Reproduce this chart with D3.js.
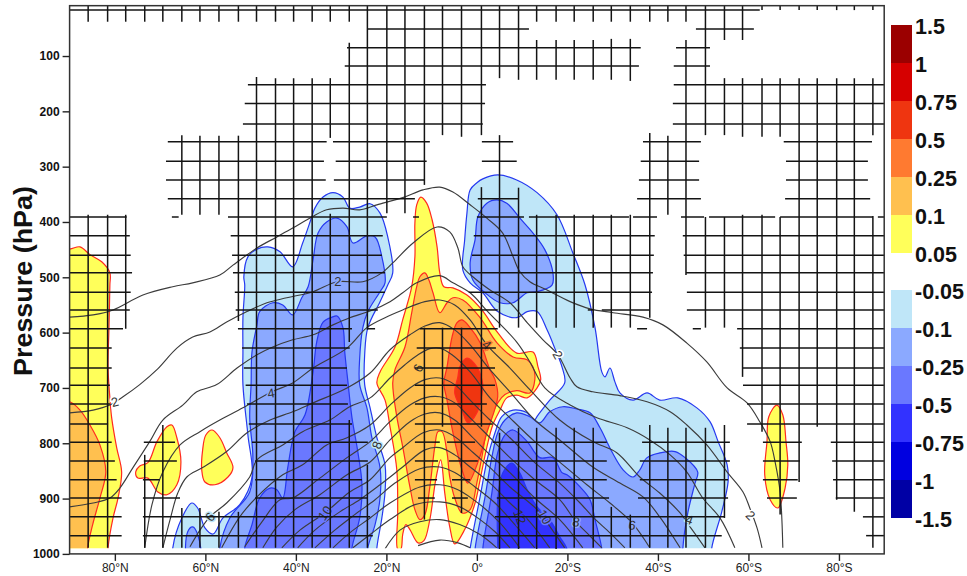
<!DOCTYPE html>
<html><head><meta charset="utf-8">
<script src="https://cdn.jsdelivr.net/npm/d3@7/dist/d3.min.js"></script>
<style>html,body{margin:0;padding:0;background:#fff}svg{display:block}text{font-family:"Liberation Sans",Arial,sans-serif}</style>
</head><body><svg id="c" width="967" height="576"></svg>
<script>
// ---------- axes and legend ----------
const pressureTicks=[100,200,300,400,500,600,700,800,900,1000];
const latTicks=[80,60,40,20,0,-20,-40,-60,-80];
const latTickLabels=["80°N","60°N","40°N","20°N","0°","20°S","40°S","60°S","80°S"];
const posLegendLabels=["1.5","1","0.75","0.5","0.25","0.1","0.05"];
const negLegendLabels=["-0.05","-0.1","-0.25","-0.5","-0.75","-1","-1.5"];
const posColors=["#9b0000","#d60000","#ef3510","#ff7a30","#ffc04f","#ffff5a"];
const negColors=["#bfe6f8","#8ba9ff","#6a78ff","#3232ff","#0000e0","#0000a5"];
// ---------- filled regions: [latitude, hPa], colour index ----------
const yellowA=[[90,449],[87.7,445],[85.5,459],[82.9,472],[81.1,492],[81.1,514],[81.3,591],[81.5,664],[81.1,718],[80.7,754],[79.6,808],[78.5,852],[79.3,899],[80.4,935],[81.5,989],[81.5,1010],[95,1010],[95,449]];
const orangeA=[[90,725],[87.7,740],[85.5,767],[83.3,803],[82,852],[83.3,899],[84.9,947],[86,989],[86,1010],[95,1010],[95,725]];
const yellowB=[[67.4,767],[66.3,790],[65.4,834],[66.3,875],[68.5,893],[70.5,888],[72.7,863],[74.9,863],[75.4,852],[74.5,841],[72.7,835],[70.7,797],[68.5,770]];
const yellowC=[[58.5,776],[56.8,790],[55.3,817],[53.9,844],[55,861],[57.9,875],[60.1,870],[60.8,848],[60.6,812],[59.9,785]];
const yellowD=[[-66.3,731],[-67.6,749],[-68.3,797],[-68.7,839],[-68.1,881],[-66.5,917],[-64.8,902],[-63.6,857],[-64.1,797],[-64.5,752]];
const yellowE=[[12.4,355],[11.1,366],[9.9,396],[8.8,445],[8.2,492],[7.3,517],[5.3,519],[2.2,532],[-1.1,559],[-4.6,600],[-8.8,637],[-12.4,635],[-13.5,662],[-14.1,685],[-13.3,700],[-11.1,718],[-8.8,713],[-6.6,718],[-5.1,740],[-3.5,767],[-2.2,807],[-0.7,866],[0.4,908],[2.7,956],[4.9,982],[6,951],[7.1,890],[8,830],[9.1,866],[10.4,938],[11.7,976],[13,980],[14.8,956],[15.7,947],[16.4,965],[16.8,991],[17.5,991],[17.5,926],[17.7,848],[19.2,770],[20.3,722],[22.1,691],[21.4,671],[18.1,626],[16.4,577],[14.4,517],[13.7,463],[13.7,402],[13.3,369]];
const orangeE=[[11.5,492],[10.6,505],[9.7,528],[8.2,564],[6.6,546],[5.3,537],[3.1,541],[-0.7,573],[-4.4,618],[-8,644],[-11.1,649],[-12.4,662],[-12.8,685],[-11.7,709],[-8.8,705],[-6.2,712],[-4.6,727],[-2.4,770],[-1.1,825],[0,871],[1.5,920],[3.3,926],[4.9,899],[6,861],[6.6,817],[7.7,779],[8.6,779],[9.3,806],[10.4,879],[11.5,929],[12.6,938],[13.7,920],[14.8,879],[16.4,806],[17.7,752],[18.6,691],[18.1,667],[15.9,626],[14.4,564],[13.3,517],[12.6,499]];
const darkOrangeE=[[3.3,577],[1.5,591],[-0.7,618],[-2.9,667],[-4,685],[-4.6,716],[-2.2,781],[-0.2,835],[2,872],[3.3,848],[5.3,781],[6.6,722],[7.3,691],[6.6,662],[5.5,608],[4.4,582]];
const redE=[[2.2,646],[0,662],[-1.1,685],[-1.3,698],[0,745],[2,763],[3.3,740],[4.9,709],[4.2,680],[3.8,662]];
const blueN1=[[31.8,347],[29.6,355],[28.1,375],[25.9,373],[23.6,367],[21.4,384],[19.7,427],[18.6,492],[19.7,514],[21.4,544],[24.1,591],[24.8,640],[24.8,694],[23.6,736],[22.1,790],[20.3,839],[20.3,888],[21,935],[22.1,989],[22.1,1010],[67.2,1010],[67.2,989],[65.2,935],[63,908],[61.7,917],[60.1,953],[58.3,964],[56.1,935],[52.4,911],[49.7,862],[50.6,785],[51.7,694],[51.7,635],[51.7,573],[51.3,514],[51.5,499],[50.6,463],[48.6,449],[46.2,445],[43.5,454],[40.7,481],[38.5,438],[36.5,391],[35.8,375],[34,355]];
const blueN2=[[30.9,393],[28.7,409],[27.4,438],[24.3,425],[22.5,427],[21,463],[20.3,510],[21.4,526],[24.1,562],[25.2,591],[25.9,646],[25.9,694],[24.3,736],[23.2,790],[21.4,844],[21.4,899],[22.5,947],[24.1,989],[24.1,1010],[56.8,1010],[56.8,989],[54.6,935],[50.2,888],[49.5,826],[50.2,754],[49.9,694],[49.7,635],[48.6,586],[48,562],[45.1,546],[42.9,550],[40.7,568],[38.7,537],[37.3,517],[36.2,468],[35.1,420],[33.2,400]];
const blueN2b=[[63.9,1010],[63.9,960],[62.8,951],[61.7,965],[61.2,1010]];
const blueN3=[[30.9,570],[29.6,591],[29.2,635],[28.5,689],[27.6,754],[26.3,816],[25.4,875],[25.9,935],[27.6,989],[27.6,1010],[51.3,1010],[51.3,989],[49.7,947],[48,899],[45.7,881],[44.2,884],[42.9,899],[41.8,844],[40.2,779],[38,749],[36.2,671],[35.4,617],[34,581],[32,572]];
const blueN5=[[-4.6,315],[-8.8,324],[-13.3,347],[-17.7,387],[-21.2,456],[-23.9,514],[-26.1,591],[-27.6,671],[-28.3,680],[-29.4,664],[-30.5,689],[-31.6,709],[-34.5,722],[-37.6,709],[-40.4,722],[-44.4,718],[-48.6,736],[-51.5,761],[-53.3,797],[-55.3,839],[-55.5,870],[-54.1,924],[-51.9,989],[-51.9,1010],[1.7,1010],[1.5,991],[-0.7,897],[-2.4,825],[-4,781],[-5.5,752],[-8,740],[-11.1,745],[-12.4,761],[-13.5,749],[-16.1,722],[-19.4,691],[-18.8,662],[-17.2,628],[-15.5,595],[-13.3,562],[-11.1,562],[-8.8,573],[-4.6,562],[-1.3,528],[1.5,510],[3.1,487],[2.7,432],[2.2,384],[1.5,342],[0,329],[-1.3,322]];
const blueN6=[[-4.4,360],[-6.6,366],[-9.5,393],[-12.4,420],[-15,450],[-16.8,492],[-16.6,514],[-13.3,526],[-11.1,528],[-8,546],[-5.1,546],[-1.8,528],[0.9,505],[1.5,474],[0.4,432],[-0.2,391],[-2.2,366]];
const blueN7=[[0.4,991],[-1.8,897],[-3.3,825],[-4.6,781],[-6.2,758],[-8.8,745],[-11.7,752],[-13.9,763],[-16.1,743],[-19,734],[-22.1,738],[-25,745],[-27.2,772],[-29.8,815],[-32.3,848],[-34.5,861],[-36,848],[-37.6,826],[-42,815],[-43.8,815],[-46,826],[-48.8,852],[-48.2,872],[-46.6,926],[-45.5,991],[-45.5,1010],[0.4,1010]];
const blueN8=[[-1.3,991],[-3.3,890],[-4.6,817],[-6.2,785],[-8,776],[-11.1,797],[-13.9,826],[-16.8,826],[-18.8,853],[-19.9,857],[-22.8,879],[-25,902],[-26.1,938],[-27.6,991],[-27.6,1010],[-1.3,1010]];
const blueN9=[[-4.6,991],[-4.6,902],[-5.7,854],[-7.7,836],[-9.5,854],[-11.1,884],[-13.3,915],[-16.1,938],[-18.3,969],[-19.9,991],[-19.9,1010],[-4.6,1010]];
const posRegions=[[yellowA,5],[yellowB,5],[yellowC,5],[yellowD,5],[yellowE,5],[orangeA,4],[orangeE,4],[darkOrangeE,3],[redE,2]];
const negRegions=[[blueN1,0],[blueN5,0],[blueN2,1],[blueN2b,1],[blueN6,1],[blueN7,1],[blueN3,2],[blueN8,2],[blueN9,3]];
// ---------- black contours: [latitude, hPa] ----------
const L1=[[90,572],[84.8,568],[80.4,559],[73.8,532],[67.2,517],[62.8,510],[56.8,496],[53.9,478],[48.6,447],[44.2,427],[40.7,411],[36.5,391],[33.2,378],[29.6,375],[25.9,378],[22.1,369],[16.4,356],[11.9,342],[8.2,337],[5.3,346],[1.5,369],[-2.2,393],[-5.7,420],[-8,463],[-9.5,490],[-11.7,508],[-15.5,523],[-20.6,544],[-25,557],[-30.1,564],[-36.7,572],[-41.1,586],[-46.4,619],[-50.8,653],[-55.3,700],[-59.7,727],[-62.5,761],[-64.8,797],[-65.9,834],[-67,888],[-67.6,989]];
const L2=[[90,745],[84.8,740],[81.1,731],[78.2,716],[74.5,694],[70.7,667],[66.3,628],[62.8,608],[59,599],[55.3,581],[50.8,562],[46.4,546],[42,537],[36.2,526],[30.9,508],[25.2,508],[21,492],[18.6,474],[14.1,438],[8.8,409],[6,418],[4.2,447],[3.1,481],[0.9,499],[-2.9,523],[-7.3,546],[-11.1,582],[-14.6,613],[-17.9,640],[-20.6,682],[-22.1,698],[-25.6,707],[-31.6,714],[-37.6,725],[-42.7,743],[-46.4,767],[-50.8,803],[-55.3,852],[-58.8,888],[-60.3,917],[-61.9,953],[-63,989]];
const L3=[[90,915],[84.8,908],[81.1,899],[78.9,881],[76,844],[72.3,797],[69.4,758],[65,731],[61.9,707],[57.5,694],[53,664],[48.6,640],[45.1,626],[40.7,613],[36.2,604],[31.8,586],[28.1,573],[23.6,561],[19.2,544],[16.4,528],[13.3,510],[8.2,497],[5.3,510],[1.5,528],[-2.4,562],[-8.8,617],[-11.7,653],[-15,700],[-20.6,731],[-26.5,754],[-33.2,772],[-38.2,794],[-42.7,821],[-46.4,852],[-49.9,899],[-53.7,935],[-57,989]];
const L4=[[73.4,989],[71.8,911],[69.4,852],[65.6,803],[61.2,779],[56.8,758],[51.7,736],[45.3,707],[40.7,691],[36.2,664],[28.7,628],[24.3,591],[20.3,573],[16.4,559],[11.5,544],[8.2,541],[4.9,550],[1.5,577],[-2.2,622],[-7.3,664],[-11.7,703],[-18.3,758],[-25.6,797],[-30.9,817],[-36,861],[-40.4,890],[-44.9,926],[-47.1,951],[-50.4,989]];
const L5=[[69.4,989],[67.8,938],[66.1,890],[64.1,861],[60.6,844],[55.3,815],[50.8,781],[45.7,758],[40.7,743],[36.2,727],[28.7,700],[23.6,673],[19.2,631],[14.8,604],[11.5,588],[8.2,582],[4.9,595],[1.5,622],[-2.9,667],[-7.3,707],[-12.8,758],[-18.3,794],[-25.6,843],[-31.6,872],[-36.7,897],[-40.4,933],[-44.9,989]];
const L6=[[63.4,987],[61.2,957],[59,933],[55.3,908],[50.2,861],[48.6,830],[42.9,803],[38.5,779],[32.5,758],[28.1,734],[23.6,718],[19.2,682],[15.9,658],[13,640],[10.4,629],[8.2,628],[5.5,640],[1.5,671],[-2.9,718],[-7.3,754],[-12.8,797],[-18.3,834],[-24.3,875],[-29.4,908],[-34.3,944],[-38.2,989]];
const L7=[[56.4,989],[52.4,933],[48.6,897],[42.9,857],[38.5,839],[33.2,803],[28.7,790],[23.6,767],[19.2,731],[14.8,700],[11.5,685],[8.2,682],[4.9,694],[1.5,722],[-2.9,758],[-7.3,790],[-12.8,835],[-18.3,872],[-22.8,908],[-25.6,933],[-29.4,962],[-32.7,989]];
const L8=[[51.3,987],[47.5,942],[43.5,902],[40.7,899],[34.7,863],[28.7,826],[23.6,797],[19.2,761],[14.8,731],[11.5,718],[8.2,716],[4.9,727],[1.5,754],[-2.9,790],[-7.3,826],[-12.8,866],[-18.3,902],[-21.9,942],[-24.3,962],[-27.6,989]];
const L9=[[47.3,989],[44.2,951],[40.2,920],[34.7,893],[28.7,857],[23.6,834],[19.2,794],[14.8,761],[11.5,747],[8.2,745],[4.9,758],[1.5,785],[-2.9,821],[-7.3,853],[-12.8,899],[-18.3,938],[-23.4,989]];
const L10=[[43.1,989],[39.1,957],[33.6,926],[28.1,888],[23.6,866],[19.2,826],[16.4,808],[11.9,781],[8.2,776],[4.9,788],[1.5,812],[-2.9,844],[-7.3,879],[-13.3,920],[-16.6,956],[-19.4,989]];
const L11=[[39.6,989],[35.8,957],[30.3,924],[25.9,902],[21.4,875],[16.4,843],[11.5,812],[8.2,808],[4.9,821],[1.5,843],[-2.9,872],[-7.3,908],[-11.7,942],[-16.1,989]];
const L12=[[35.8,989],[31.4,957],[27,929],[22.5,902],[18.1,872],[12.6,846],[8.2,843],[4.9,853],[0.4,879],[-4,908],[-8.4,947],[-12.8,989]];
const L13=[[31.8,989],[28.1,962],[23.6,935],[19.2,908],[12.6,879],[8.2,875],[4.2,884],[-0.7,911],[-5.1,944],[-9.5,989]];
const L14=[[27.4,989],[23.6,965],[19.2,938],[13.7,911],[8.2,906],[3.8,915],[-0.7,938],[-4,960],[-7.3,989]];
const L15=[[20.3,991],[17,957],[12.6,942],[8.2,938],[3.8,947],[-0.7,965],[-4.4,989]];
const L16=[[13,985],[8.2,975],[4.2,980],[1.5,989]];
const contourLines=[L1,L2,L3,L4,L5,L6,L7,L8,L9,L10,L11,L12,L13,L14,L15,L16];
// contour labels: text, latitude, hPa, angle, halo colour key
const contourLabels=[["2",80,725,-15,"w"],["2",30.7,507,0,"n1"],["4",45.5,709,-10,"n1"],["6",59,933,-50,"n0"],["8",22.1,803,-70,"n0"],["10",33.6,926,-55,"n2"],["6",13,664,-65,"p4"],["4",-2.2,622,40,"p3"],["2",-17.9,640,60,"w"],["2",-60.5,930,45,"w"],["4",-47,938,20,"n0"],["6",-34.3,948,10,"n1"],["8",-21.9,942,10,"n1"],["10",-15,933,60,"n2"],["12",-9.5,933,70,"n3"]];
// ---------- significance hatching ----------
const hatchLevels=[17,51,85,118,152,186,223,255,290,324,358,391,425,460,492,527,559,593,628,664,695,729,765,798,832,866,899,933,967];
const hatchRowSpans=[
[[90,-62.5]],
[[24.1,-11.5],[-48.4,-61.2]],
[[28.7,-36.2],[-44,-51.5]],
[[29.2,-35.8],[-43.5,-51.5]],
[[50.6,-2],[-43.5,-90]],
[[51.3,-1.8],[-43.3,-90]],
[[51.7,-1.3],[-43.3,-90]],
[[68.3,33.2],[31.8,10.4],[-1.1,-8],[-36.7,-49.5],[-67.8,-87.3]],
[[68.7,33.8],[31.2,11.1],[-1.1,-8.8],[-36.2,-49.1],[-68.3,-86.4]],
[[68.7,33.4],[31.6,11.5],[-35.8,-49.1],[-68.3,-86.4]],
[[68.3,13.7],[-0.2,-9.3],[-35.4,-49.5],[-68.1,-86.9]],
[[90,77.4],[67.4,65.9],[55,19.9],[14.1,12.8],[0,-10.4],[-11.5,-33.6],[-34.5,-39.8],[-45.1,-50.2],[-51.3,-65.9],[-67,-87.5],[-88.6,-90]],
[[90,76.7],[54.4,20.8],[0.7,-39.3],[-45.5,-90]],
[[90,76.5],[54.1,21],[1.1,-39.1],[-45.7,-90]],
[[90,76.2],[53.9,20.3],[1.5,-38.9],[-46.2,-90]],
[[90,76.5],[53.5,20.3],[1.8,-38.7],[-46.4,-90]],
[[90,76.7],[53.3,21.9],[2,-4.6],[-24.5,-25.9],[-27.6,-38.2],[-46.4,-90]],
[[90,78.2],[52.8,27.6],[24.1,22.5],[12.6,-4.6],[-35.4,-37.6],[-47.7,-49.5],[-57.5,-90]],
[[90,80.7],[51.9,28.1],[13.3,-4.2],[-58.1,-90]],
[[90,80.7],[51.5,28.7],[13.7,-4],[-58.6,-90]],
[[90,81.1],[51.1,28.7],[13.7,-4],[-58.8,-90]],
[[90,81.1],[50.8,28.5],[13.7,-2.2],[-59.7,-90]],
[[90,81.5],[50.4,27.6],[13.7,-3.5],[-59.7,-90]],
[[90,80.7],[73.6,66.7],[49.7,24.1],[13.7,8.2],[6.6,0.4],[-3.5,-28.7],[-36.5,-55.9],[-63.2,-71.8],[-78.2,-90]],
[[90,80],[73.6,66.3],[49,24.1],[13.7,8.6],[6.2,-0.2],[-1.8,-28.7],[-36,-55.9],[-63.2,-71.4],[-78.5,-90]],
[[90,79.6],[73.8,70.1],[49,25.4],[13.7,8.8],[5.5,1.5],[-1.8,-28.7],[-36,-55.5],[-63.2,-70.9],[-78.7,-90]],
[[90,78.5],[73.8,65.6],[49,24.1],[13,9.3],[5.5,2],[-4.4,-29.2],[-35.6,-55.5],[-64.1,-70.7],[-79.3,-90]],
[[90,78.5],[73.8,23.6],[-4,-54.8],[-85.3,-90]],
[[90,78.5],[73.8,23],[-1.3,-54.1],[-86,-90]]
];
const hatchLats=[85.9,81.6,77.6,73.4,69.4,65.2,61.2,57,52.7,48.7,44.5,40.5,36.4,32.4,28.2,24.2,19.9,15.9,11.6,7.6,3.4,-1,-5,-9.2,-13.2,-17.5,-21.5,-25.7,-29.7,-33.9,-38.2,-42.2,-46.2,-50.5,-54.7,-58.7,-63,-67,-71.2,-75.2,-79.5,-83.4,-87.5];
const hatchColSpans=[
[[9,38],[387,989]],[[9,38],[387,989]],[[9,38],[387,593]],[[9,38],[821,989]],[[9,38],[767,989]],
[[9,38],[243,387],[917,989]],[[9,38],[244,387],[917,989]],[[9,38],[244,387],[924,989]],[[9,38],[244,579],[924,989]],
[[9,38],[138,989]],[[9,38],[140,989]],[[9,38],[140,989]],[[9,38],[140,989]],[[9,38],[140,248],[385,989]],
[[9,38],[76,617],[758,989]],[[9,595],[839,989]],[[9,384]],[[9,384]],[[9,333],[591,938]],[[9,243],[591,770]],[[9,246],[591,926]],
[[9,243],[337,770]],[[9,140],[243,591],[781,991]],[[9,143],[338,591],[772,991]],
[[9,38],[71,143],[387,591],[772,991]],[[9,38],[71,143],[387,591],[772,991]],[[9,38],[71,143],[387,591],[772,989]],[[9,38],[71,143],[387,591],[772,989]],
[[9,38],[69,143],[387,591],[915,989]],[[9,38],[69,145],[387,591],[929,989]],[[9,38],[239,573],[767,989]],[[9,38],[244,387],[772,989]],[[9,38],[71,496],[772,989]],
[[9,243],[391,591],[772,989]],[[9,71],[140,243],[391,591],[767,935]],[[9,71],[140,246],[387,680]],[[9,17],[140,246],[387,779]],[[9,17],[140,246],[391,929]],
[[9,17],[140,870]],[[9,17],[140,770]],[[9,17],[140,902]],[[9,17],[140,924]],[[9,17],[140,243],[389,989]]
];
// ---------- drawing ----------
const svg=d3.select("#c");
const x=d3.scaleLinear().domain([90,-90]).range([69.6,884.2]);
const y=d3.scaleLinear().domain([0,1000]).range([0.7,553.9]);
const halo={w:"#fff",n0:negColors[0],n1:negColors[1],n2:negColors[2],n3:negColors[3],p3:posColors[3],p4:posColors[4]};
svg.append("rect").attr("width",967).attr("height",576).attr("fill","#fff");
svg.append("defs").append("clipPath").attr("id","plot").append("rect")
  .attr("x",x(90)).attr("y",y(9)).attr("width",x(-90)-x(90)).attr("height",y(990)-y(9));
const area=d3.line().x(d=>x(d[0])).y(d=>y(d[1])).curve(d3.curveCatmullRomClosed.alpha(0.5));
const curve=d3.line().x(d=>x(d[0])).y(d=>y(d[1])).curve(d3.curveCatmullRom.alpha(0.5));
const fills=svg.append("g").attr("clip-path","url(#plot)");
negRegions.forEach(([pts,c])=>fills.append("path").attr("d",area(pts)).attr("fill",negColors[c]).attr("stroke","#2538f0").attr("stroke-width",1.2));
posRegions.forEach(([pts,c])=>fills.append("path").attr("d",area(pts)).attr("fill",posColors[c]).attr("stroke","#ff2a20").attr("stroke-width",1.2));
const lines=svg.append("g").attr("clip-path","url(#plot)");
contourLines.forEach(pts=>lines.append("path").attr("d",curve(pts)).attr("fill","none").attr("stroke","#3c3c3c").attr("stroke-width",1.15));
contourLabels.forEach(([t,la,p,a,h])=>lines.append("text").text(t)
  .attr("transform",`translate(${x(la)},${y(p)}) rotate(${a})`).attr("text-anchor","middle").attr("dy","0.36em")
  .attr("font-size",13).attr("fill","#333").attr("stroke",halo[h]).attr("stroke-width",3).attr("paint-order","stroke"));
const hatch=svg.append("g").attr("stroke","#141414").attr("stroke-width",1.5);
hatchLevels.forEach((p,i)=>hatchRowSpans[i].forEach(s=>hatch.append("line").attr("x1",x(s[0])).attr("x2",x(s[1])).attr("y1",y(p)).attr("y2",y(p))));
hatchLats.forEach((la,i)=>hatchColSpans[i].forEach(s=>hatch.append("line").attr("x1",x(la)).attr("x2",x(la)).attr("y1",y(s[0])).attr("y2",y(s[1]))));
svg.append("rect").attr("x",x(90)).attr("y",y(9)).attr("width",x(-90)-x(90)).attr("height",y(1000)-y(9)).attr("fill","none").attr("stroke","#333").attr("stroke-width",1.5);
const yAxis=svg.append("g").attr("transform",`translate(${x(90)},0)`)
  .call(d3.axisLeft(y).tickValues(pressureTicks).tickFormat(d3.format("d")).tickSize(7).tickPadding(3));
yAxis.select(".domain").remove();
yAxis.selectAll("line").attr("stroke","#222").attr("stroke-width",1.4);
yAxis.selectAll("text").attr("font-family","Liberation Sans").attr("font-weight","bold").attr("font-size",12).attr("fill","#111");
const xAxis=svg.append("g").attr("transform",`translate(0,${y(1000)})`)
  .call(d3.axisBottom(x).tickValues(latTicks).tickFormat((d,i)=>latTickLabels[i]).tickSize(7).tickPadding(2.5));
xAxis.select(".domain").remove();
xAxis.selectAll("line").attr("stroke","#222").attr("stroke-width",1.4);
xAxis.selectAll("text").attr("font-family","Liberation Sans").attr("font-size",12).attr("fill","#222");
svg.append("text").text("Pressure (hPa)").attr("transform","translate(32,281) rotate(-90)")
  .attr("text-anchor","middle").attr("font-weight","bold").attr("font-size",25).attr("fill","#111")
  .attr("textLength",190).attr("lengthAdjust","spacingAndGlyphs");
// legend
const posY=d3.scaleLinear().domain([0,6]).range([25,253]);
const negY=d3.scaleLinear().domain([0,6]).range([290,518]);
function legend(colors,labels,sc){
  colors.forEach((c,i)=>svg.append("rect").attr("x",891).attr("width",21).attr("y",sc(i)).attr("height",sc(i+1)-sc(i)).attr("fill",c));
  labels.forEach((t,i)=>svg.append("text").text(t).attr("x",915).attr("y",sc(i)+1.5).attr("dy","0.36em")
    .attr("font-weight","bold").attr("font-size",21.5).attr("fill","#111"));
}
legend(posColors,posLegendLabels,posY);
legend(negColors,negLegendLabels,negY);
</script></body></html>
